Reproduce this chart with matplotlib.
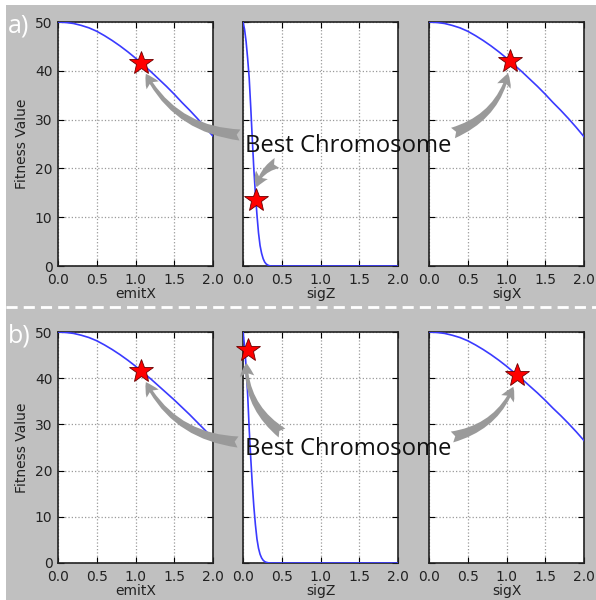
import matplotlib
matplotlib.use('Agg')
import matplotlib.pyplot as plt
from matplotlib.patches import Rectangle
from matplotlib.lines import Line2D

# parameter names on the x axes
params = ['emitX', 'sigZ', 'sigX']

# fitness curves
x_grid = [0.0, 0.1, 0.2, 0.3, 0.4, 0.5, 0.6, 0.7, 0.8, 0.9, 1.0,
          1.1, 1.2, 1.3, 1.4, 1.5, 1.6, 1.7, 1.8, 1.9, 2.0]
emitx_a = [50.0, 49.9, 49.7, 49.3, 48.8, 48.1, 47.2, 46.2, 45.1, 43.9, 42.6,
           41.2, 39.8, 38.3, 36.8, 35.2, 33.5, 31.9, 30.2, 28.4, 26.6]
sigx_a = [50.0, 49.9, 49.7, 49.3, 48.8, 48.1, 47.2, 46.2, 45.1, 43.9, 42.6,
          41.2, 39.8, 38.3, 36.8, 35.2, 33.5, 31.9, 30.2, 28.4, 26.5]
emitx_b = [50.0, 49.9, 49.7, 49.3, 48.8, 48.1, 47.2, 46.2, 45.1, 43.9, 42.6,
           41.2, 39.8, 38.3, 36.8, 35.3, 33.7, 32.1, 30.4, 28.7, 27.0]
sigx_b = [50.0, 49.9, 49.7, 49.3, 48.8, 48.1, 47.2, 46.2, 45.1, 43.9, 42.6,
          41.2, 39.8, 38.3, 36.8, 35.2, 33.5, 31.9, 30.2, 28.4, 26.5]

sigz_x = [0.00, 0.02, 0.04, 0.06, 0.08, 0.10, 0.12, 0.14, 0.16, 0.18,
          0.20, 0.22, 0.24, 0.26, 0.28, 0.30, 0.33, 0.36, 2.00]
sigz_a = [50, 48.5, 46, 42.5, 38.5, 32.5, 26, 19.8, 14.8, 10.5,
          6.8, 4.2, 2.6, 1.5, 0.8, 0.4, 0.1, 0, 0]
sigz_b = [50, 47, 42.5, 36.5, 29, 22.7, 17, 12.2, 8.3, 5.2,
          3.2, 1.9, 1.1, 0.6, 0.3, 0.15, 0.03, 0, 0]

# best chromosome per panel
best_x_a = [1.065, 0.17, 1.05]
best_y_a = [41.7, 13.6, 42.0]
best_x_b = [1.065, 0.06, 1.14]
best_y_b = [41.6, 46.0, 40.7]

W, H = 596.0, 600.0
fig = plt.figure(figsize=(5.96, 6.0), dpi=100, facecolor='white')

# gray backdrop and the white dashed split
fig.add_artist(Rectangle((6 / W, 0), 1 - 6 / W, 1 - 5 / H, transform=fig.transFigure,
                         facecolor='#c0c0c0', edgecolor='none', zorder=-5))
fig.add_artist(Line2D([6 / W, 1], [1 - 307 / H] * 2, transform=fig.transFigure,
                      color='white', lw=2, ls=(0, (4, 2.2)), zorder=-4))

lefts = [58, 243, 429]
rows = [
    dict(top=22, bot=266, curves=[(x_grid, emitx_a), (sigz_x, sigz_a), (x_grid, sigx_a)],
         bx=best_x_a, by=best_y_a, tag='a)', text_base=152,
         tails=[(240, 135), (277, 163), (453, 133)], rads=[-0.3, 0.35, 0.3]),
    dict(top=332, bot=563, curves=[(x_grid, emitx_b), (sigz_x, sigz_b), (x_grid, sigx_b)],
         bx=best_x_b, by=best_y_b, tag='b)', text_base=455,
         tails=[(238, 442), (282, 433), (452, 437)], rads=[-0.3, -0.3, 0.3]),
]

arrow_style = 'fancy,head_length=0.6,head_width=0.65,tail_width=0.5'

for row in rows:
    for j in range(3):
        ax = fig.add_axes([lefts[j] / W, 1 - row['bot'] / H, 155 / W,
                           (row['bot'] - row['top']) / H])
        ax.set_facecolor('white')
        xs, ys = row['curves'][j]
        ax.plot(xs, ys, color='#3a3aff', lw=1.2, zorder=3)
        ax.plot(row['bx'][j], row['by'][j], marker='*', ms=18, color='red',
                mec='#6a0000', mew=0.6, zorder=4, clip_on=False)
        ax.set_xlim(0, 2)
        ax.set_ylim(0, 50)
        ax.set_xticks([0.0, 0.5, 1.0, 1.5, 2.0])
        ax.set_yticks([0, 10, 20, 30, 40, 50])
        ax.grid(True, ls=':', color='#9a9a9a', lw=0.9)
        ax.tick_params(direction='in', top=True, right=True, length=4,
                       labelsize=10, labelcolor='#222222')
        ax.tick_params(axis='x', pad=5)
        ax.tick_params(axis='y', pad=4)
        for sp in ax.spines.values():
            sp.set_linewidth(1.2)
            sp.set_color('#222222')
        ax.set_xlabel(params[j], fontsize=10, color='#222222', labelpad=0)
        if j == 0:
            ax.set_ylabel('Fitness Value', fontsize=10, color='#222222', labelpad=4)
        else:
            ax.tick_params(labelleft=False)
        tx, ty = row['tails'][j]
        ax.annotate('', xy=(row['bx'][j], row['by'][j]), xycoords='data',
                    xytext=(tx / W, 1 - ty / H), textcoords='figure fraction',
                    annotation_clip=False,
                    arrowprops=dict(arrowstyle=arrow_style, mutation_scale=16,
                                    connectionstyle='arc3,rad=%s' % row['rads'][j],
                                    facecolor='#9a9a9a', edgecolor='none',
                                    shrinkA=0, shrinkB=9),
                    zorder=5)
    fig.text(245 / W, 1 - row['text_base'] / H, 'Best Chromosome', family='Open Sans',
             fontsize=17.2, color='#111111', ha='left', va='baseline', zorder=10)
    fig.text(8 / W, 1 - (row['top'] + 4) / H, row['tag'], family='Open Sans',
             fontsize=18, color='white', ha='left', va='center', zorder=10)

fig.savefig('out.png', dpi=100, facecolor='white')
